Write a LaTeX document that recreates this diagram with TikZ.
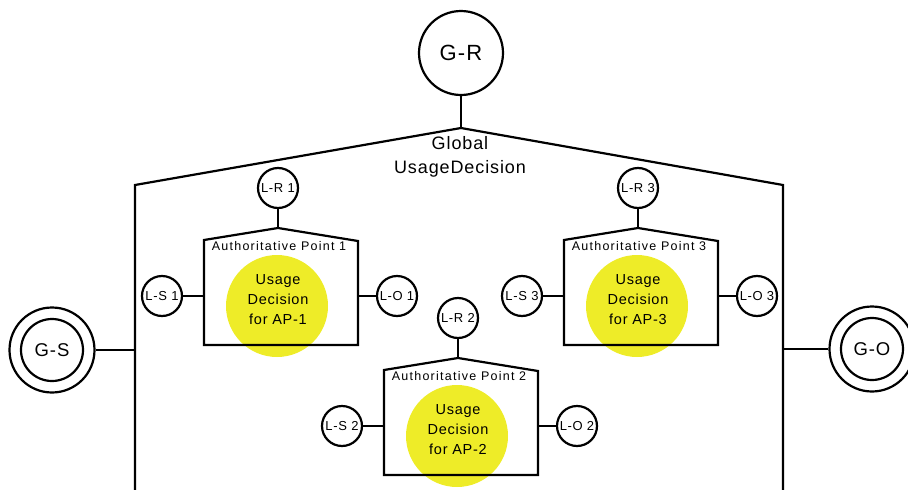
\documentclass[tikz,border=0pt]{standalone}
\usepackage{fontspec}
\setmainfont{Liberation Sans}[LetterSpace=5]
\usetikzlibrary{calc}

\definecolor{udyellow}{RGB}{238,236,40}

\tikzset{
	ring/.style = {draw, circle, inner sep = 0pt, minimum size = 40pt, fill = white},
	gring/.style = {ring, minimum size = 62pt, font = \fontsize{18.5}{22}\selectfont},
	udtext/.style = {align = center, font = \fontsize{14.5}{20}\selectfont},
	aptitle/.style = {font = \fontsize{12.5}{14}\selectfont\addfontfeature{LetterSpace=10}}
}

\begin{document}
\begin{tikzpicture}[x = 1pt, y = -1pt, line width = 2.2pt, font = \fontsize{13}{15}\selectfont]
	\useasboundingbox (0,0) rectangle (908,490);
	
	\coordinate (top) at (461,128);
	\coordinate (sl) at (135,185);
	\coordinate (sr) at (783,185);
	
	% global part
	\node [ring, minimum size = 84pt, font = \fontsize{22}{26}\selectfont] (gr) at (461,53) {G-R};
	\draw (gr) -- (top);
	\draw (135,490) -- (sl) -- (top) -- (sr) -- (783,490);
	\node [align = center, font = \fontsize{18}{24}\selectfont] (glob) at (460,157) {Global\\UsageDecision};
	
	\node [gring] (gs) at (52,350) {G-S};
	\node [ring, minimum size = 85pt, fill = none] (gso) at (gs) {};
	\draw (gso) -- (gso -| sl);
	
	\node [gring] (go) at (872,349) {G-O};
	\node [ring, minimum size = 85pt, fill = none] (goo) at (go) {};
	\draw (goo) -- (goo -| sr);
	
	% authoritative points
	\foreach \i/\cx/\ty in {1/278/228, 2/458/358, 3/638/228} {
		\coordinate (top\i) at (\cx,\ty);
		\coordinate (bl\i) at (\cx-74,\ty+117);
		\coordinate (br\i) at (\cx+80,\ty+117);
		
		\fill [udyellow] (\cx-1,\ty+78) circle [radius = 51];
		\node [udtext] (ud\i) at (\cx,\ty+72) {Usage\\Decision\\for AP-\i};
		\draw (bl\i) -- (\cx-74,\ty+12) -- (top\i) -- (\cx+80,\ty+13) -- (br\i) -- cycle;
		\node [aptitle] (ap\i) at (\cx+1,\ty+18) {Authoritative Point \i};
		
		\node [ring] (lr\i) at (\cx,\ty-40) {L-R \i};
		\node [ring] (ls\i) at (\cx-116,\ty+68) {L-S \i};
		\node [ring] (lo\i) at (\cx+119,\ty+68) {L-O \i};
		
		\draw (lr\i) -- (top\i);
		\draw (ls\i) -- (ls\i -| bl\i);
		\draw (lo\i) -- (lo\i -| br\i);
	}
\end{tikzpicture}
\end{document}
